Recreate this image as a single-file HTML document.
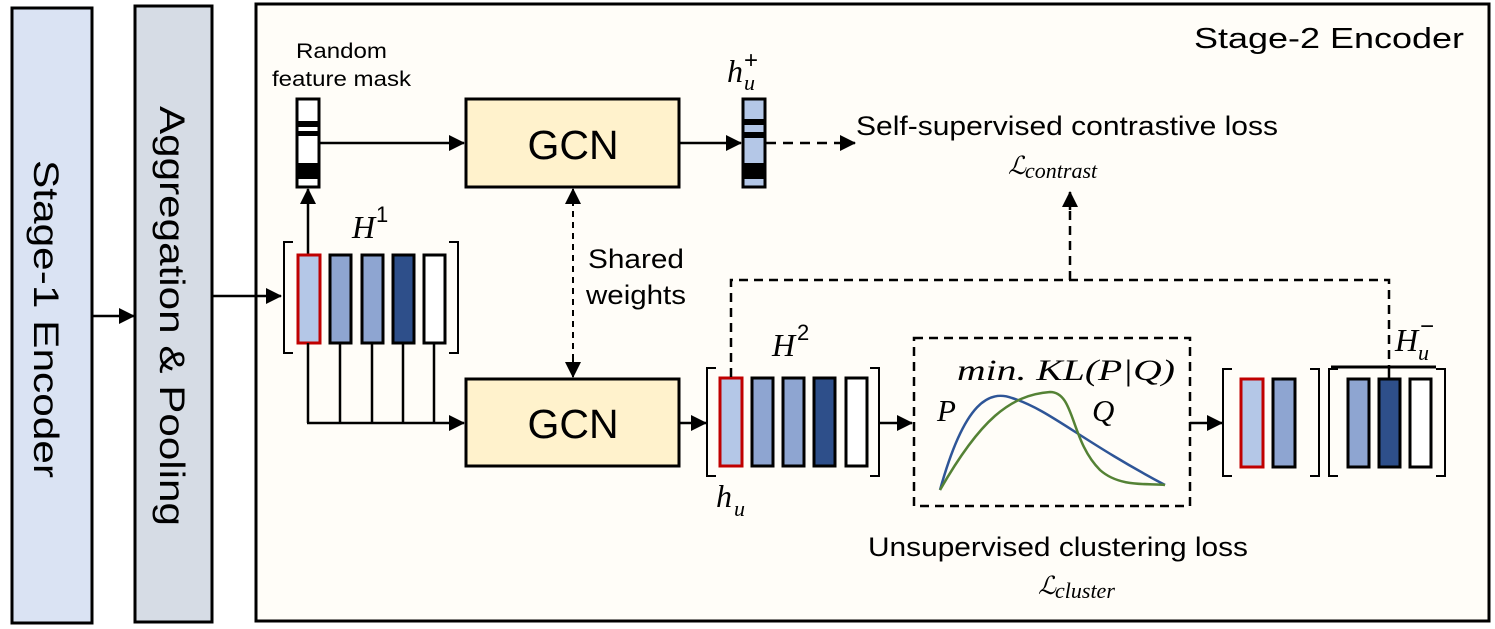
<!DOCTYPE html>
<html><head><meta charset="utf-8"><style>
html,body{margin:0;padding:0;background:#fff;}
svg{display:block;}
text{font-family:"Liberation Sans",Arial,sans-serif;fill:#000;}
.m{font-family:"Liberation Serif","DejaVu Serif",serif;font-style:italic;}
</style></head><body>
<svg width="1495" height="629" viewBox="0 0 1495 629" xmlns="http://www.w3.org/2000/svg">
<defs>
<marker id="A" markerWidth="16" markerHeight="16" refX="15" refY="8" orient="auto-start-reverse" markerUnits="userSpaceOnUse" viewBox="0 0 16 16"><path d="M0,0 L16,8 L0,16 z" fill="#000"/></marker>
</defs>
<rect width="1495" height="629" fill="#fff"/>
<rect x="12" y="8" width="80" height="615" fill="#dae3f3" stroke="#000" stroke-width="3"/>
<text transform="translate(34,319) rotate(90)" text-anchor="middle" font-size="35" textLength="318" lengthAdjust="spacingAndGlyphs">Stage-1 Encoder</text>
<rect x="135" y="6" width="77" height="616" fill="#d6dce5" stroke="#000" stroke-width="3"/>
<text transform="translate(160,316) rotate(90)" text-anchor="middle" font-size="35" textLength="420" lengthAdjust="spacingAndGlyphs">Aggregation &amp; Pooling</text>
<line x1="92" y1="316" x2="134" y2="316" stroke="#000" stroke-width="2.5" marker-end="url(#A)"/>
<rect x="256" y="4" width="1233" height="617" fill="#fffdf8" stroke="#000" stroke-width="3"/>
<text x="1194" y="48" font-size="29" textLength="270" lengthAdjust="spacingAndGlyphs">Stage-2 Encoder</text>
<line x1="212" y1="296" x2="281" y2="296" stroke="#000" stroke-width="2.5" marker-end="url(#A)"/>
<text x="296" y="58" font-size="21" textLength="91" lengthAdjust="spacingAndGlyphs">Random</text>
<text x="272" y="86" font-size="21" textLength="139" lengthAdjust="spacingAndGlyphs">feature mask</text>
<rect x="297" y="99" width="22" height="88" fill="#fff" stroke="#000" stroke-width="3"/>
<rect x="297" y="121" width="22" height="6" fill="#000"/>
<rect x="297" y="131" width="22" height="5" fill="#000"/>
<rect x="297" y="163" width="22" height="16" fill="#000"/>
<line x1="319" y1="143" x2="464" y2="143" stroke="#000" stroke-width="2.5" marker-end="url(#A)"/>
<line x1="308" y1="254" x2="308" y2="189" stroke="#000" stroke-width="2.5" marker-end="url(#A)"/>
<rect x="466" y="99" width="213" height="88" fill="#fff2cc" stroke="#000" stroke-width="3"/>
<text x="573" y="159" text-anchor="middle" font-size="41">GCN</text>
<line x1="679" y1="143" x2="741" y2="143" stroke="#000" stroke-width="2.5" marker-end="url(#A)"/>
<text x="727" y="82" class="m" font-size="32">h</text><text x="744" y="90" class="m" font-size="22">u</text><text x="744" y="68" font-size="24">+</text>
<rect x="743" y="99" width="22" height="88" fill="#b4c7e7" stroke="#000" stroke-width="3"/>
<rect x="743" y="119" width="22" height="6" fill="#000"/>
<rect x="743" y="132" width="22" height="6" fill="#000"/>
<rect x="743" y="163" width="22" height="16" fill="#000"/>
<line x1="766" y1="143" x2="855" y2="143" stroke="#000" stroke-width="2.5" stroke-dasharray="10,7" marker-end="url(#A)"/>
<text x="856" y="135" font-size="27" textLength="422" lengthAdjust="spacingAndGlyphs">Self-supervised contrastive loss</text>
<text x="1008" y="174" class="m" font-size="25">ℒ</text><text x="1025" y="178" class="m" font-size="22">contrast</text>
<line x1="573" y1="200" x2="573" y2="366" stroke="#000" stroke-width="2" stroke-dasharray="6,5"/>
<line x1="573" y1="205" x2="573" y2="189" stroke="#000" stroke-width="2" marker-end="url(#A)"/>
<line x1="573" y1="360" x2="573" y2="377" stroke="#000" stroke-width="2" marker-end="url(#A)"/>
<text x="588" y="268" font-size="27" textLength="96" lengthAdjust="spacingAndGlyphs">Shared</text>
<text x="586" y="304" font-size="27" textLength="100" lengthAdjust="spacingAndGlyphs">weights</text>
<text x="352" y="238" class="m" font-size="32">H</text><text x="376" y="222" font-size="22" font-family="Liberation Serif">1</text>
<path d="M293,242 h-9 v111 h9" fill="none" stroke="#000" stroke-width="2"/>
<path d="M449,242 h9 v111 h-9" fill="none" stroke="#000" stroke-width="2"/>
<rect x="298" y="255" width="22" height="88" fill="#b4c7e7" stroke="#c00000" stroke-width="3"/>
<rect x="330" y="255" width="21" height="88" fill="#8ea5d1" stroke="#000" stroke-width="3"/>
<rect x="362" y="255" width="21" height="88" fill="#8ea5d1" stroke="#000" stroke-width="3"/>
<rect x="393" y="255" width="21" height="88" fill="#2e4f8a" stroke="#000" stroke-width="3"/>
<rect x="424" y="255" width="21" height="88" fill="#fff" stroke="#000" stroke-width="3"/>
<g stroke="#000" stroke-width="2.5">
<line x1="308" y1="343" x2="308" y2="423"/><line x1="340" y1="343" x2="340" y2="423"/><line x1="372" y1="343" x2="372" y2="423"/><line x1="403" y1="343" x2="403" y2="423"/><line x1="434" y1="343" x2="434" y2="423"/>
</g>
<line x1="307" y1="423" x2="464" y2="423" stroke="#000" stroke-width="2.5" marker-end="url(#A)"/>
<rect x="466" y="379" width="213" height="87" fill="#fff2cc" stroke="#000" stroke-width="3"/>
<text x="573" y="438" text-anchor="middle" font-size="41">GCN</text>
<line x1="679" y1="423" x2="706" y2="423" stroke="#000" stroke-width="2.5" marker-end="url(#A)"/>
<text x="772" y="356" class="m" font-size="32">H</text><text x="797" y="340" font-size="22" font-family="Liberation Serif">2</text>
<path d="M716,368 h-9 v108 h9" fill="none" stroke="#000" stroke-width="2"/>
<path d="M870,368 h9 v108 h-9" fill="none" stroke="#000" stroke-width="2"/>
<rect x="720" y="378" width="22" height="88" fill="#b4c7e7" stroke="#c00000" stroke-width="3"/>
<rect x="752" y="378" width="21" height="88" fill="#8ea5d1" stroke="#000" stroke-width="3"/>
<rect x="783" y="378" width="21" height="88" fill="#8ea5d1" stroke="#000" stroke-width="3"/>
<rect x="814" y="378" width="21" height="88" fill="#2e4f8a" stroke="#000" stroke-width="3"/>
<rect x="846" y="378" width="21" height="88" fill="#fff" stroke="#000" stroke-width="3"/>
<text x="716" y="507" class="m" font-size="32">h</text><text x="734" y="516" class="m" font-size="22">u</text>
<line x1="880" y1="423" x2="912" y2="423" stroke="#000" stroke-width="2.5" marker-end="url(#A)"/>
<rect x="914" y="338" width="276" height="168" fill="none" stroke="#000" stroke-width="2.5" stroke-dasharray="9,6"/>
<text x="957" y="380" class="m" font-size="30" textLength="218" lengthAdjust="spacingAndGlyphs">min. KL(P|Q)</text>
<text x="937" y="421" class="m" font-size="31">P</text>
<text x="1092" y="421" class="m" font-size="31">Q</text>
<path d="M940,490 C965,400 990,390 1012,398 C1050,410 1080,440 1165,485" fill="none" stroke="#2e5597" stroke-width="2.5"/>
<path d="M940,490 C980,420 1010,395 1050,392 C1075,392 1070,440 1100,470 C1120,488 1150,483 1165,485" fill="none" stroke="#548235" stroke-width="2.5"/>
<text x="868" y="556" font-size="27" textLength="380" lengthAdjust="spacingAndGlyphs">Unsupervised clustering loss</text>
<text x="1038" y="594" class="m" font-size="25">ℒ</text><text x="1055" y="598" class="m" font-size="22">cluster</text>
<line x1="1190" y1="423" x2="1222" y2="423" stroke="#000" stroke-width="2.5" marker-end="url(#A)"/>
<path d="M1232,369 h-9 v107 h9" fill="none" stroke="#000" stroke-width="2"/>
<path d="M1310,369 h9 v107 h-9" fill="none" stroke="#000" stroke-width="2"/>
<rect x="1241" y="379" width="22" height="88" fill="#b4c7e7" stroke="#c00000" stroke-width="3"/>
<rect x="1273" y="379" width="22" height="88" fill="#8ea5d1" stroke="#000" stroke-width="3"/>
<path d="M1338,369 h-9 v107 h9" fill="none" stroke="#000" stroke-width="2"/>
<path d="M1436,369 h9 v107 h-9" fill="none" stroke="#000" stroke-width="2"/>
<line x1="1331" y1="367" x2="1436" y2="367" stroke="#000" stroke-width="3"/>
<rect x="1348" y="379" width="21" height="88" fill="#8ea5d1" stroke="#000" stroke-width="3"/>
<rect x="1379" y="379" width="21" height="88" fill="#2e4f8a" stroke="#000" stroke-width="3"/>
<rect x="1410" y="379" width="21" height="88" fill="#fff" stroke="#000" stroke-width="3"/>
<line x1="1389" y1="367" x2="1389" y2="379" stroke="#000" stroke-width="2.5"/>
<text x="1395" y="351" class="m" font-size="32">H</text><text x="1418" y="360" class="m" font-size="22">u</text><text x="1420" y="334" font-size="24">−</text>
<path d="M731,377 V280 H1389 V367" fill="none" stroke="#000" stroke-width="2.5" stroke-dasharray="9,6"/>
<line x1="1070" y1="280" x2="1070" y2="205" stroke="#000" stroke-width="2.5" stroke-dasharray="9,6"/>
<line x1="1070" y1="210" x2="1070" y2="192" stroke="#000" stroke-width="2.5" marker-end="url(#A)"/>
</svg>
</body></html>
